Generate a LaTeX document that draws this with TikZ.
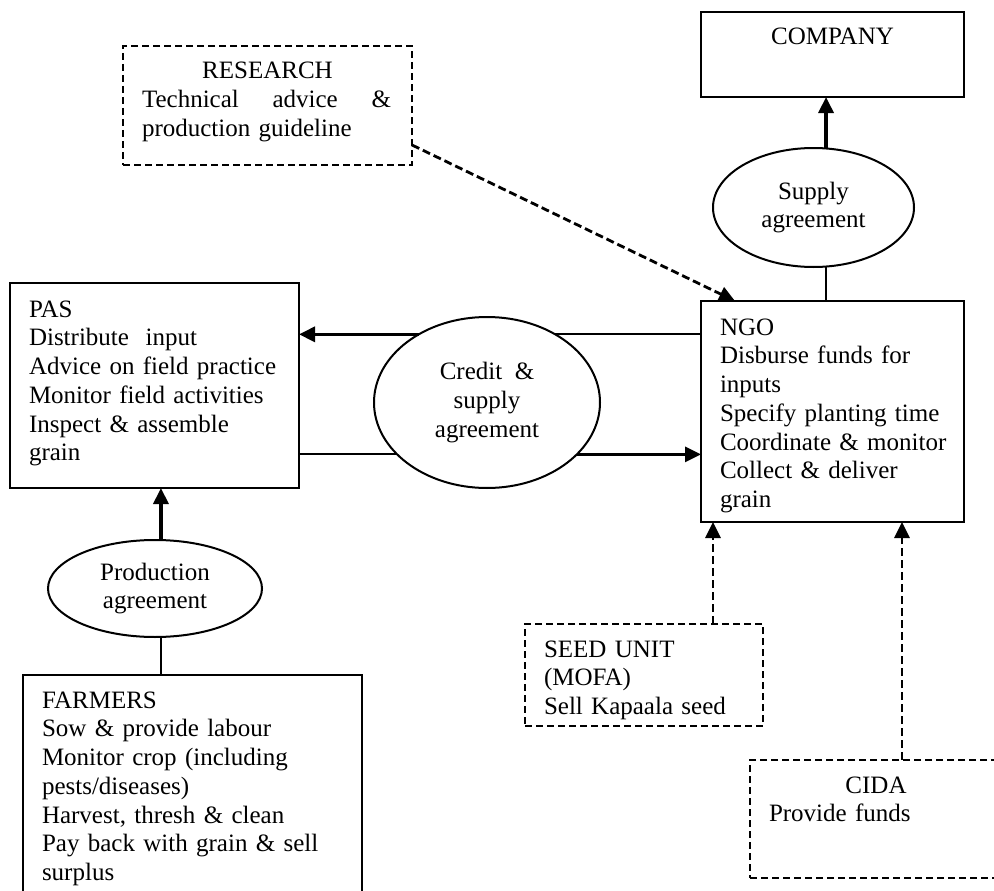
\documentclass[tikz,border=0pt]{standalone}
\usepackage{fontspec}
\setmainfont{Liberation Serif}
\usetikzlibrary{shapes.geometric,arrows.meta}

\begin{document}
\begin{tikzpicture}[x=1pt,y=-1pt,
    font=\fontsize{25}{28.75}\selectfont,
    box/.style={draw, line width=2.4pt, anchor=north west, outer sep=0pt,
        inner xsep=19pt, inner ysep=0pt, align=left},
    dashbox/.style={box, line width=2.6pt, dash pattern=on 7pt off 4pt},
    agree/.style={draw, ellipse, line width=2pt, outer sep=0pt, inner sep=0pt, align=center},
    flow/.style={line width=3.2pt, -{Triangle[length=16pt,width=15pt]}},
    dashflow/.style={flow, line width=2.8pt, dash pattern=on 8pt off 4pt},
    link/.style={line width=2pt}]

    \useasboundingbox (0,0) rectangle (994,891);

    % Actors (solid boxes)
    \node[box, text width=251pt, text height=34pt, text depth=171pt] (pas) at (10,283)
        {PAS\\Distribute \ input\\Advice on field practice\\Monitor field activities\\Inspect \& assemble\\grain};
    \node[box, text width=225pt, text height=34pt, text depth=187pt] (ngo) at (701,301)
        {NGO\\Disburse funds for\\inputs\\\mbox{Specify planting time}\\\mbox{Coordinate \& monitor}\\Collect \& deliver\\grain};
    \node[box, text width=301pt, text height=33pt, text depth=195pt] (farmers) at (23,675)
        {FARMERS\\Sow \& provide labour\\Monitor crop (including\\pests/diseases)\\Harvest, thresh \& clean\\Pay back with grain \& sell\\surplus};
    \node[box, align=center, text width=225pt, text height=33pt, text depth=52pt] (company) at (701,12) {COMPANY};

    % Support (dashed boxes)
    \node[dashbox, text width=251pt, text height=33pt, text depth=86pt] (research) at (123,46)
        {\makebox[251pt]{RESEARCH}\\\makebox[249pt]{Technical\hfill advice\hfill\&}\\production guideline};
    \node[dashbox, text width=200pt, text height=33pt, text depth=69pt] (seed) at (525,624)
        {SEED UNIT\\(MOFA)\\Sell Kapaala seed};
    \node[dashbox, text width=214pt, text height=33pt, text depth=85pt] (cida) at (750,760)
        {\makebox[214pt]{CIDA}\\Provide funds};

    % Agreements
    \node[agree, minimum width=226pt, minimum height=171pt] (credit) at (487,402.5) {Credit \ \&\\supply\\agreement};
    \node[agree, minimum width=201pt, minimum height=119pt] (supply) at (813.5,207.5) {Supply\\agreement};
    \node[agree, minimum width=214pt, minimum height=97pt] (production) at (155,588.5) {Production\\agreement};

    % Credit & supply agreement between PAS and NGO
    \draw[flow] (credit.135) -- (credit.135 -| pas.east);
    \draw[link] (credit.45) -- (credit.45 -| ngo.west);
    \draw[link] (credit.210) -- (credit.210 -| pas.east);
    \draw[flow] (credit.330) -- (credit.330 -| ngo.west);

    % Production and supply agreements
    \draw[flow] (production.83) -- (production.83 |- pas.south);
    \draw[link] (production.-83) -- (production.-83 |- farmers.north);
    \draw[flow] (supply.78) -- (supply.78 |- company.south);
    \draw[link] (supply.-78) -- (supply.-78 |- ngo.north);

    % Dashed inputs to NGO
    \draw[dashflow] ([yshift=20pt]research.south east) -- ([xshift=34pt]ngo.north west);
    \coordinate (seedtop) at ([xshift=-50pt]seed.north east);
    \draw[dashflow] (seedtop) -- (seedtop |- ngo.south);
    \coordinate (cidatop) at ([xshift=152pt]cida.north west);
    \draw[dashflow] (cidatop) -- (cidatop |- ngo.south);

\end{tikzpicture}
\end{document}
